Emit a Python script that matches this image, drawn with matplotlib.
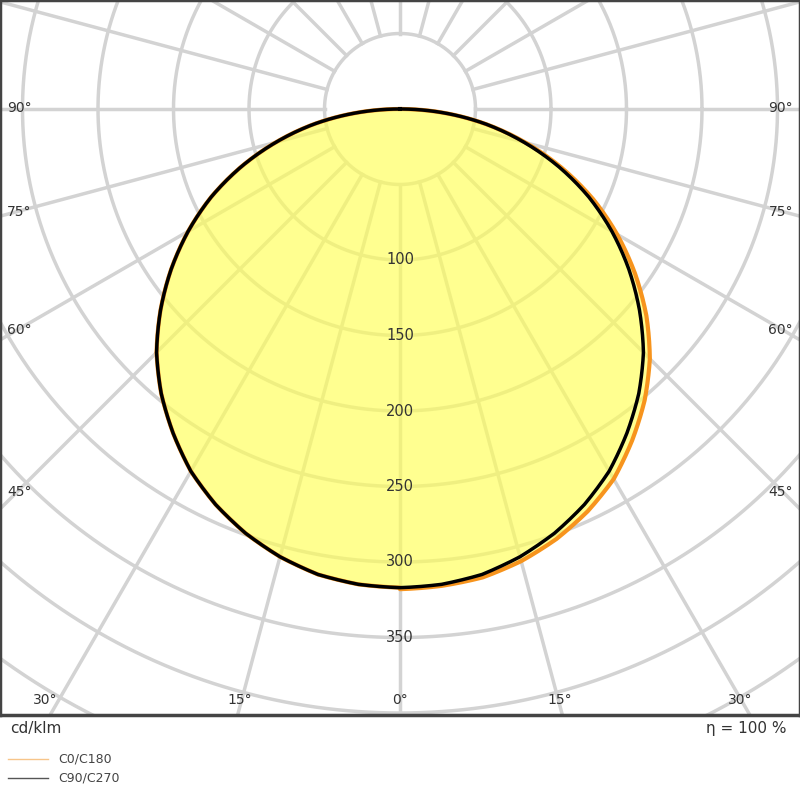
import numpy as np
import matplotlib
matplotlib.use("Agg")
import matplotlib.pyplot as plt

angles = [0, 5, 10, 15, 20, 25, 30, 35, 40, 45, 50, 55, 60, 65, 70, 75, 80, 85, 90]
c90 = [317, 316, 313, 307, 299, 289, 277, 262, 246, 228, 207, 185, 162, 138, 112, 85, 58, 29, 0]
c270 = [317, 316, 313, 307, 299, 289, 277, 262, 246, 228, 207, 185, 162, 138, 112, 85, 58, 29, 0]
c0 = [318, 317, 315, 310, 303, 294, 283, 268, 252, 234, 213, 190, 166, 141, 114, 86, 58, 29, 0]
c180 = [317, 316, 313, 307, 299, 289, 277, 262, 246, 228, 207, 185, 162, 138, 112, 85, 58, 29, 0]
radial_labels = [100, 150, 200, 250, 300, 350]
angle_labels_bottom = [30, 15, 0, 15, 30]
angle_labels_side = [90, 75, 60, 45]

S = 75.5 / 50  # px per unit
fig = plt.figure(figsize=(8, 8), dpi=100)
ax = fig.add_axes([0, 85/800, 1, 715/800])
ax.set_xlim(-400/S, 400/S)
ax.set_ylim(-(715-109)/S, 109/S)
ax.set_xticks([]); ax.set_yticks([])
for s in ax.spines.values():
    s.set_color('#444444'); s.set_linewidth(2.5)

grid = '#d3d3d3'
t = np.linspace(0, 2*np.pi, 721)
for r in range(50, 1001, 50):
    ax.plot(r*np.cos(t), r*np.sin(t), color=grid, lw=2.5, zorder=1)
for a in range(0, 360, 15):
    th = np.radians(a)
    ax.plot([50*np.sin(th), 1200*np.sin(th)], [-50*np.cos(th), -1200*np.cos(th)],
            color=grid, lw=2.5, zorder=1)

def smooth(right, left):
    fine = np.linspace(0, 90, 361)
    rr = np.interp(fine, angles, right)
    ll = np.interp(fine, angles, left)
    th = np.radians(fine)
    x = np.concatenate([-(ll*np.sin(th))[::-1], rr*np.sin(th)])
    y = np.concatenate([-(ll*np.cos(th))[::-1], -rr*np.cos(th)])
    return x, y

x0, y0 = smooth(c0, c180)
x9, y9 = smooth(c90, c270)
ax.fill(x0, y0, color='#ffff55', alpha=0.65, zorder=2, lw=0)
ax.plot(x0, y0, color='#f7941d', lw=3, zorder=3)
ax.plot(x9, y9, color='black', lw=2.5, zorder=4)

for r in radial_labels:
    ax.text(0, -r, str(r), ha='center', va='center', fontsize=10.5, color='#333333', zorder=5)

ybot = -(700-109)/S
for a, xl in zip(angle_labels_bottom, [-355, -160, 0, 160, 340]):
    ax.text(xl/S, ybot, f"{a}°", ha='center', va='center', fontsize=10, color='#333333', zorder=5)
for a, yp in zip(angle_labels_side, [108, 212, 330, 492]):
    yy = -(yp-109)/S
    ax.text(-393/S, yy, f"{a}°", ha='left', va='center', fontsize=10, color='#333333', zorder=5)
    ax.text(393/S, yy, f"{a}°", ha='right', va='center', fontsize=10, color='#333333', zorder=5)

fig.text(10/800, 1-728/800, "cd/klm", fontsize=11, color='#333333', va='center')
fig.text(787/800, 1-728/800, "η = 100 %", fontsize=11, color='#333333', va='center', ha='right')
fig.add_artist(plt.Line2D([8/800, 48/800], [1-759/800]*2, color='#f7c58a', lw=1))
fig.add_artist(plt.Line2D([8/800, 48/800], [1-778/800]*2, color='#555555', lw=1))
fig.text(58/800, 1-759/800, "C0/C180", fontsize=9, color='#444444', va='center')
fig.text(58/800, 1-778/800, "C90/C270", fontsize=9, color='#444444', va='center')

fig.savefig("out.png", dpi=100)
